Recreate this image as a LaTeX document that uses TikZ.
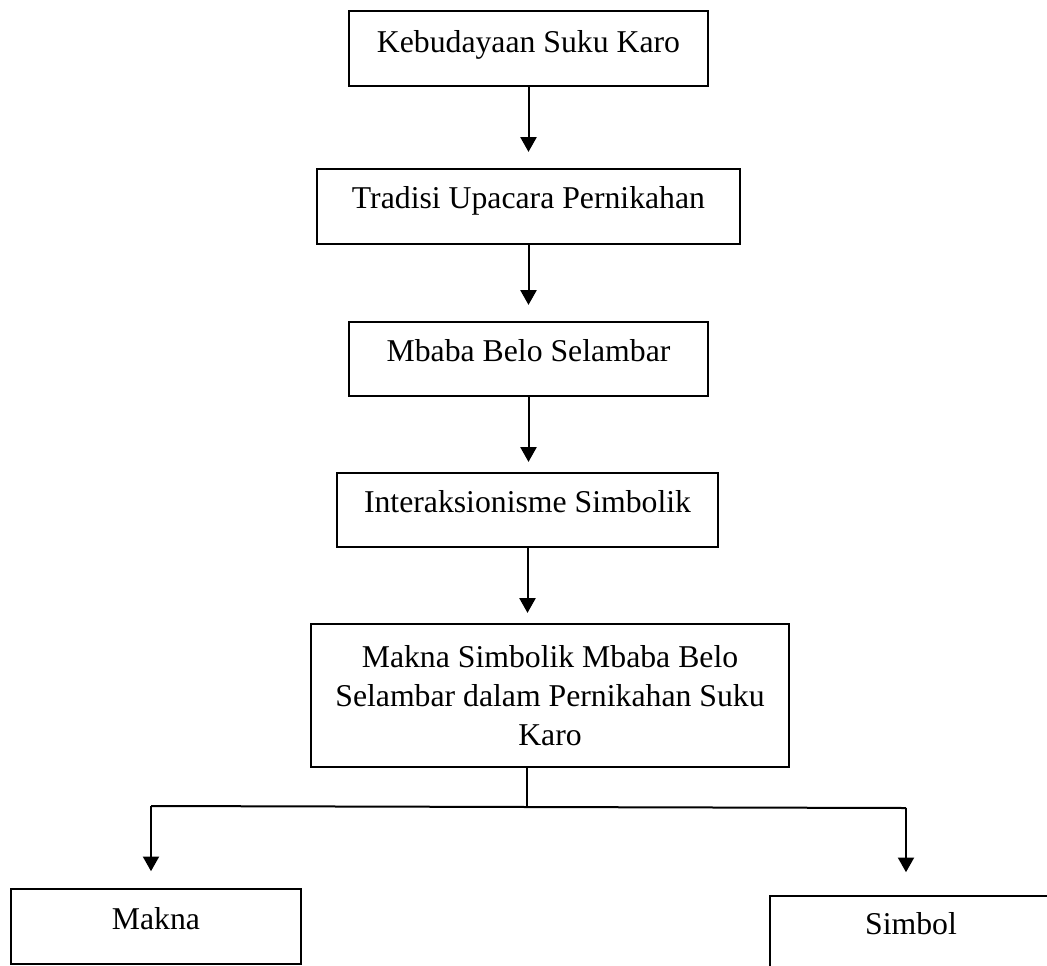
\documentclass[tikz,border=0pt]{standalone}
\usepackage{fontspec}
\setmainfont{Liberation Serif}
\usetikzlibrary{arrows.meta}
\begin{document}
\begin{tikzpicture}[x=0.75pt,y=-0.75pt,
  box/.style={draw=black, line width=1.7pt, rectangle, inner sep=0pt, align=center,
    font=\fontsize{23.8}{29.3}\selectfont},
  onebox/.style={box, text height=0.7em, text depth=0.4em},
  conn/.style={draw=black, line width=1.5pt},
  arr/.style={conn, -{Triangle[width=12pt,length=11pt]}}]
\useasboundingbox (0,0) rectangle (1047,965);
\fill[white] (0,0) rectangle (1047,965);
\node[onebox, text depth=0.12em, minimum width=359*0.75pt, minimum height=75*0.75pt] (b1) at (528.5,48.5) {Kebudayaan Suku Karo};
\node[onebox, minimum width=423*0.75pt, minimum height=75*0.75pt] (b2) at (528.5,206.5) {Tradisi Upacara Pernikahan};
\node[onebox, text depth=0.36em, minimum width=359*0.75pt, minimum height=74*0.75pt] (b3) at (528.5,359) {Mbaba Belo Selambar};
\node[onebox, text depth=0.36em, minimum width=381*0.75pt, minimum height=74*0.75pt] (b4) at (527.5,510) {Interaksionisme Simbolik};
\node[box, minimum width=478*0.75pt, minimum height=143*0.75pt] (b5) at (550,695.5)
  {Makna Simbolik Mbaba Belo\\Selambar dalam Pernikahan Suku\\Karo};
\node[onebox, text depth=0.3em, minimum width=290*0.75pt, minimum height=75*0.75pt] (m) at (156,926.5) {Makna};
\node[onebox, minimum width=282*0.75pt, minimum height=76*0.75pt, text depth=0.6em] (s) at (911,934) {Simbol};

\draw[arr, shorten >=12pt] (b1.south) -- (b1.south |- b2.north);
\draw[arr, shorten >=12pt] (b2.south) -- (b2.south |- b3.north);
\draw[arr, shorten >=7.5pt] (b3.south) -- (b3.south |- b4.north);
\draw[arr, shorten >=7.5pt] (b4.south) -- (b4.south |- b5.north);

\coordinate (j) at (527,807);
\coordinate (jl) at (151,806);
\coordinate (jr) at (906,808);
\draw[conn] (j |- b5.south) -- (j);
\draw[conn] (jl) -- (jr);
\draw[arr, shorten >=12.5pt] (jl) -- (jl |- m.north);
\draw[arr, shorten >=17pt] (jr) -- (jr |- s.north);
\end{tikzpicture}
\end{document}
